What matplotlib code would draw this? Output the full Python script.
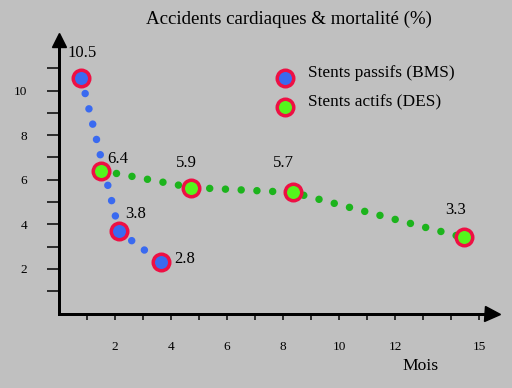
import matplotlib
matplotlib.use("Agg")
import matplotlib.pyplot as plt

# ---- data ----
bms_months = [0.8, 2.15, 3.65]
bms_values = [10.55, 3.68, 2.29]
bms_labels = ["10.5", "3.8", "2.8"]

des_months = [1.5, 4.72, 8.35, 14.45]
des_values = [6.41, 5.65, 5.43, 3.41]
des_labels = ["6.4", "5.9", "5.7", "3.3"]

x_ticks = [1, 2, 3, 4, 5, 6, 7, 8, 9, 10, 11, 12, 13, 14, 15]
x_tick_labels = ["", "2", "", "4", "", "6", "", "8", "", "10", "", "12", "", "", "15"]
y_ticks = [1, 2, 3, 4, 5, 6, 7, 8, 9, 10, 11]
y_tick_labels = ["", "2", "", "4", "", "6", "", "8", "", "10", ""]

title = "Accidents cardiaques & mortalité (%)"
x_title = "Mois"
legend_labels = ["Stents passifs (BMS)", "Stents actifs (DES)"]

# ---- style ----
BG = "#c0c0c0"
BLUE_DOT = "#3a6af0"
GREEN_DOT = "#1cb41c"
GREEN_FILL = "#55f51c"
RED = "#ee1044"
FONT = "Liberation Serif"

plt.rcParams["font.family"] = [FONT, "DejaVu Serif"]

DPI = 100
fig = plt.figure(figsize=(5.12, 3.88), dpi=DPI, facecolor=BG)
ax = fig.add_axes([59 / 512, 1 - 313.5 / 388, 432.5 / 512, 273.5 / 388])
ax.set_facecolor(BG)
ax.set_xlim(0, 432.5 / 28)
ax.set_ylim(0, 273.5 / 22.3)

px = 72 / DPI  # points per pixel

for s in ["top", "right"]:
    ax.spines[s].set_visible(False)
for s in ["left", "bottom"]:
    ax.spines[s].set_linewidth(3 * px)
    ax.spines[s].set_color("black")

ax.set_yticks(y_ticks)
ax.set_yticklabels(y_tick_labels)
ax.set_xticks(x_ticks)
ax.set_xticklabels(x_tick_labels)
ax.tick_params(axis="y", direction="out", length=12 * px, width=1.5 * px, pad=20 * px,
               labelsize=9.5, colors="black")
ax.tick_params(axis="x", direction="out", length=6 * px, width=1.5 * px, pad=21 * px,
               labelsize=9.5, colors="black")

# arrow heads
ax.plot([0], [1], marker="^", ms=14 * px, color="black", transform=ax.transAxes,
        clip_on=False, zorder=5)
ax.plot([1], [0], marker=">", ms=15 * px, color="black", transform=ax.transAxes,
        clip_on=False, zorder=5)

# dotted connecting lines
dot_lw = 7.5 * px
ax.plot(bms_months, bms_values, color=BLUE_DOT, lw=dot_lw, linestyle=(0, (0.001, 2.1)),
        dash_capstyle="round", zorder=2, clip_on=False)
ax.plot(des_months, des_values, color=GREEN_DOT, lw=dot_lw, linestyle=(0, (0.001, 2.1)),
        dash_capstyle="round", zorder=2, clip_on=False)

ms = 16.5 * px
mew = 3.5 * px
ax.plot(bms_months, bms_values, linestyle="none", marker="o", ms=ms, mfc=BLUE_DOT,
        mec=RED, mew=mew, zorder=4, clip_on=False)
ax.plot(des_months, des_values, linestyle="none", marker="o", ms=ms, mfc=GREEN_FILL,
        mec=RED, mew=mew, zorder=4, clip_on=False)

# value labels (offsets in pixels)
bms_offsets = [(1, 25, "center"), (6, 17, "left"), (13, 3, "left")]
des_offsets = [(6, 12, "left"), (-5, 25, "center"), (-9, 29, "center"), (-8, 27, "center")]
for xs, ys, labs, offs in [(bms_months, bms_values, bms_labels, bms_offsets),
                           (des_months, des_values, des_labels, des_offsets)]:
    for x, y, lab, (dx, dy, ha) in zip(xs, ys, labs, offs):
        ax.annotate(lab, (x, y), xytext=(dx * px, dy * px), textcoords="offset points",
                    ha=ha, va="center", fontsize=12, color="black", zorder=6)

# title and axis title
fig.text(289 / 512, 1 - 19 / 388, title, ha="center", va="center", fontsize=13.6)
fig.text(421 / 512, 1 - 366 / 388, x_title, ha="center", va="center", fontsize=12.6)

# legend (manual placement in figure pixels)
legend_fills = [BLUE_DOT, GREEN_FILL]
legend_rows_y = [78, 107]
for fill, lab, yy in zip(legend_fills, legend_labels, legend_rows_y):
    fig.add_artist(plt.Line2D([285 / 512], [1 - yy / 388], linestyle="none", marker="o",
                              ms=ms, mfc=fill, mec=RED, mew=mew,
                              transform=fig.transFigure))
    fig.text(308 / 512, 1 - (yy - 5) / 388, lab, ha="left", va="center", fontsize=12.4)

fig.savefig("out.png", dpi=DPI, facecolor=BG)
